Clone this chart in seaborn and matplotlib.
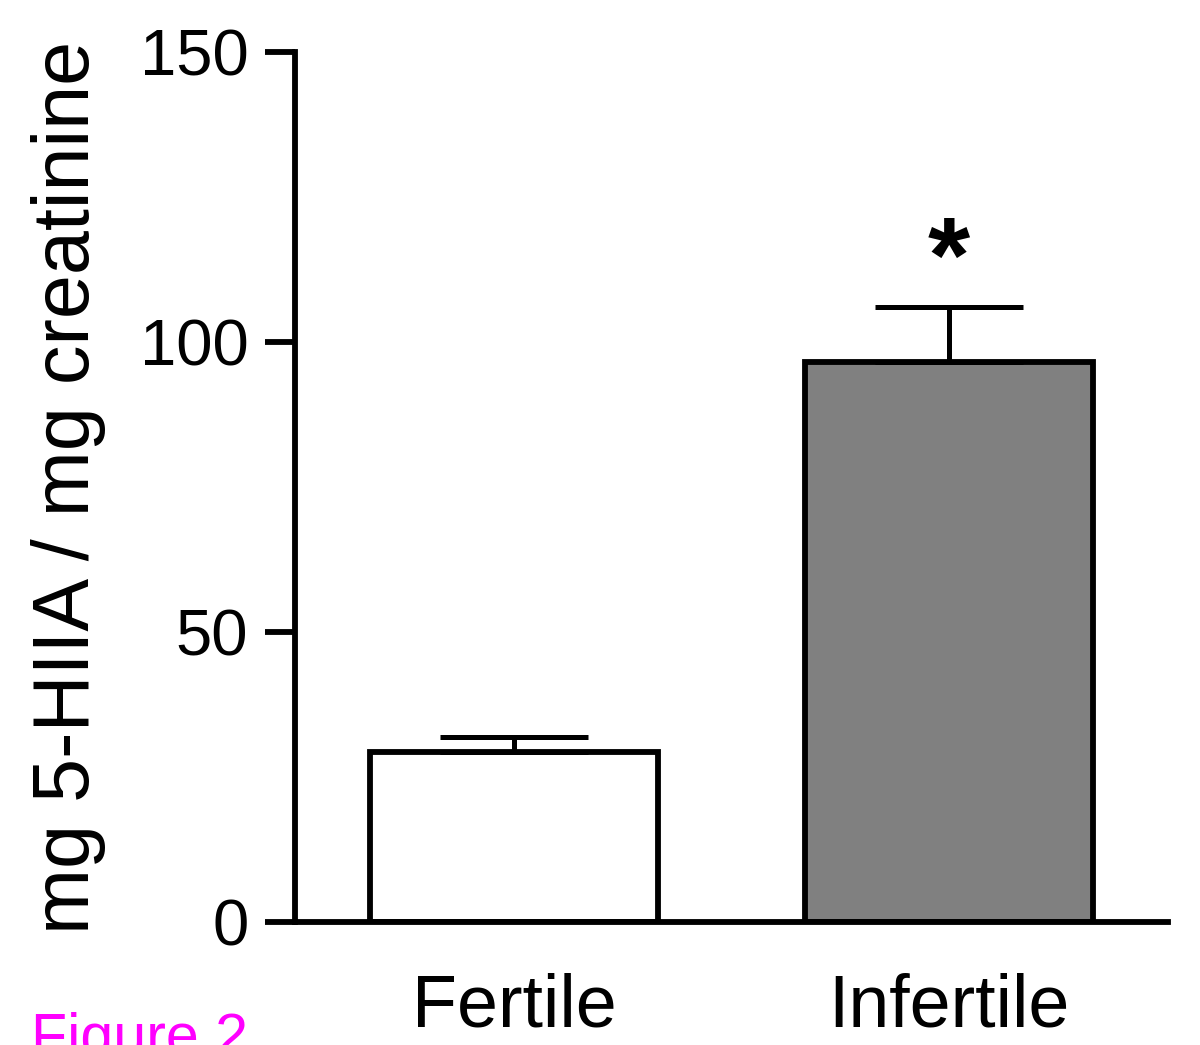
import matplotlib.pyplot as plt
import seaborn as sns

# values
groups = ["Fertile", "Infertile"]
means = [29.3, 96.5]
sem_up = [2.6, 9.5]
bar_colors = ["white", "#808080"]
star_y = 113.5

sns.set_style("ticks")
plt.rcParams["font.family"] = ["Liberation Sans", "DejaVu Sans"]
plt.rcParams["text.color"] = "black"
plt.rcParams["axes.labelcolor"] = "black"
plt.rcParams["xtick.color"] = "black"
plt.rcParams["ytick.color"] = "black"
plt.rcParams["axes.edgecolor"] = "black"

fig = plt.figure(figsize=(12, 10.45), dpi=100)
ax = fig.add_axes([0.2458, 0.1177, 0.7275, 0.8325])

sns.barplot(x=groups, y=means, hue=groups, palette=bar_colors, legend=False,
            edgecolor="black", linewidth=4.2, width=0.663, saturation=1, ax=ax)

# upper error bars only
ax.errorbar([0, 1], means, yerr=[[0, 0], sem_up], fmt="none", ecolor="black",
            elinewidth=3.6, capsize=53, capthick=3.6, zorder=1)

ax.text(1, star_y, "*", ha="center", va="center", fontsize=78, fontweight="bold")

ax.set_ylim(0, 150)
ax.set_xlim(-0.505, 1.505)
ax.set_yticks([0, 50, 100, 150])
ax.set_ylabel("mg 5-HIIA / mg creatinine", fontsize=57)
ax.yaxis.set_label_coords(-0.2165, 0.5)
ax.set_xlabel("")

for side in ["top", "right"]:
    ax.spines[side].set_visible(False)
for side in ["left", "bottom"]:
    ax.spines[side].set_linewidth(4.2)

ax.tick_params(axis="y", length=21.6, width=4.2, pad=12, labelsize=47)
ax.tick_params(axis="x", length=0, pad=36, labelsize=53)

fig.text(31 / 1200, -0.0096, "Figure 2", color="#FF00FF", fontsize=42.6,
         ha="left", va="baseline")

fig.savefig("out.png", dpi=100)
